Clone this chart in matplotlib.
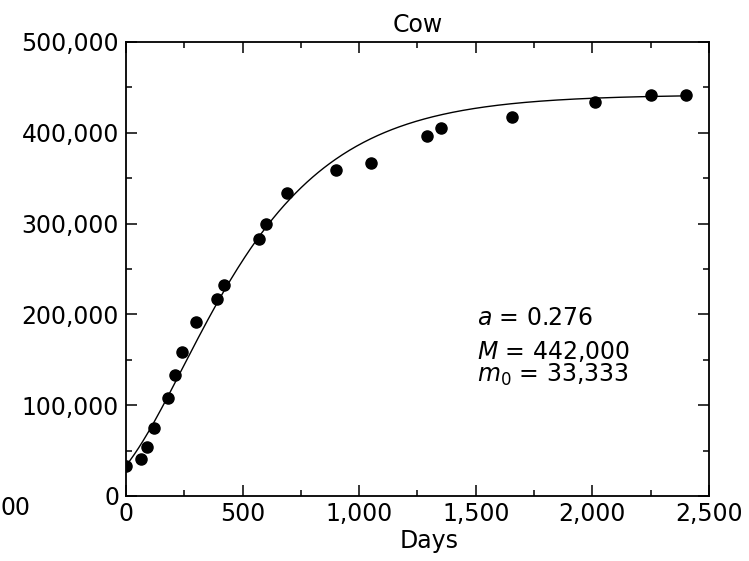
import numpy as np
import matplotlib
matplotlib.use("Agg")
import matplotlib.pyplot as plt
from matplotlib.ticker import FuncFormatter, MultipleLocator

# measured body mass of a cow (g) against age (days)
days = [0, 63, 89, 120, 181, 209, 239, 300, 390, 420,
        570, 599, 689, 900, 1049, 1292, 1351, 1654, 2013, 2253, 2400]
mass = [33000, 41100, 54300, 74500, 108300, 132900, 158200, 191300, 216600, 232700,
        283400, 299900, 333400, 358700, 366700, 396500, 404900, 417000, 433900, 441900, 441900]

# growth-model parameters
a = 0.276
M = 442000
m0 = 33333
t_end = 2420

plt.rcParams['font.family'] = ['DejaVu Sans']
plt.rcParams['mathtext.fontset'] = 'dejavusans'

fig = plt.figure(figsize=(7.49, 5.61), dpi=100)
ax = fig.add_axes([0.1682, 0.1159, 0.7784, 0.8093])

t = np.linspace(0, t_end, 400)
curve = M * (1 - (1 - (m0 / M) ** 0.25) * np.exp(-a * t / (4 * M ** 0.25))) ** 4
ax.plot(t, curve, color='black', lw=1.0, zorder=2)
ax.plot(days, mass, 'o', color='black', ms=8, zorder=3)

ax.set_xlim(0, 2500)
ax.set_ylim(0, 500000)
ax.xaxis.set_major_locator(MultipleLocator(500))
ax.xaxis.set_minor_locator(MultipleLocator(250))
ax.yaxis.set_major_locator(MultipleLocator(100000))
ax.yaxis.set_minor_locator(MultipleLocator(50000))
comma = FuncFormatter(lambda v, p: f'{v:,.0f}')
ax.xaxis.set_major_formatter(comma)
ax.yaxis.set_major_formatter(comma)

ax.tick_params(which='both', direction='in', top=True, right=True, width=1.1, labelsize=17)
ax.tick_params(which='major', length=8)
ax.tick_params(which='minor', length=4.5)
ax.tick_params(axis='x', pad=4)
ax.tick_params(axis='y', pad=5)
for s in ax.spines.values():
    s.set_linewidth(1.3)

ax.set_title('Cow', fontsize=17, pad=7)
ax.set_xlabel('Days', fontsize=17)
ax.xaxis.set_label_coords(0.52, -0.072)

ax.text(0.602, 0.377, r'$a$ = 0.276', transform=ax.transAxes, fontsize=17)
ax.text(0.602, 0.302, r'$M$ = 442,000', transform=ax.transAxes, fontsize=17)
ax.text(0.602, 0.252, r'$m_0$ = 33,333', transform=ax.transAxes, fontsize=17)

# tail of the neighbouring panel's axis label
fig.text(0.001, 0.095, '00', fontsize=17, va='center')

fig.savefig('out.png', dpi=100)
